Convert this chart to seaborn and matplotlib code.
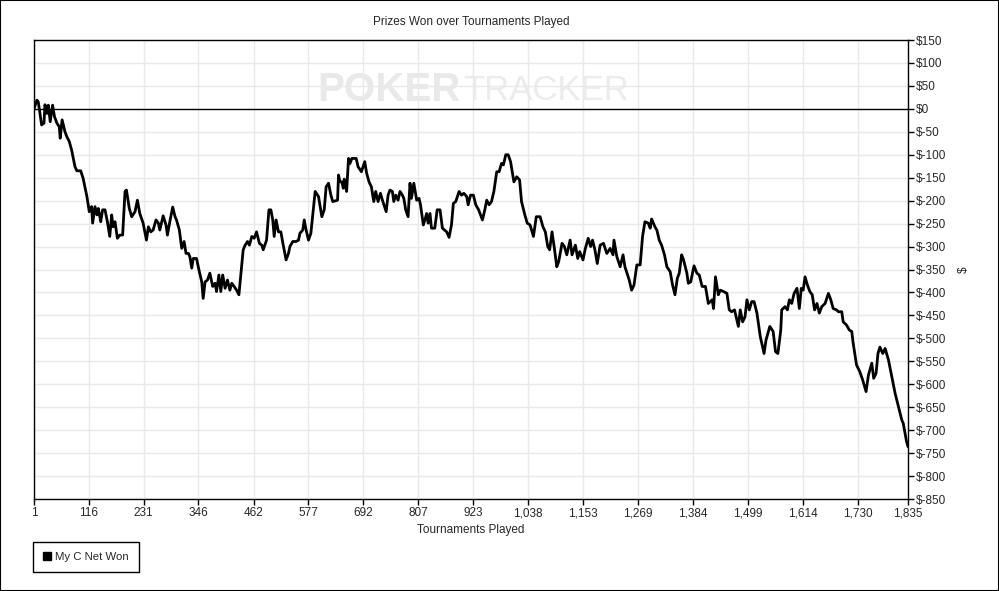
import matplotlib
matplotlib.use("Agg")
import matplotlib.pyplot as plt
import numpy as np
import pandas as pd
import seaborn as sns
from matplotlib.lines import Line2D
from matplotlib.ticker import FuncFormatter

# Data (tournament number, cumulative net won in $)
tournaments = [
    1, 7, 10, 17, 22, 24, 28, 31, 35, 40, 44, 49, 54, 56, 60, 66, 70, 75, 80, 87,
    91, 99, 104, 112, 117, 122, 124, 129, 133, 136, 141, 145, 150, 155, 160, 164, 167, 171, 176, 181,
    187, 192, 195, 201, 206, 213, 218, 223, 230, 237, 241, 246, 251, 257, 262, 265, 272, 278, 281, 286,
    292, 297, 300, 306, 311, 316, 320, 325, 328, 332, 335, 342, 348, 353, 356, 360, 365, 370, 376, 381,
    384, 389, 393, 397, 402, 407, 412, 416, 421, 426, 431, 435, 440, 444, 449, 453, 458, 463, 468, 474,
    479, 482, 489, 494, 498, 502, 505, 509, 514, 519, 524, 530, 535, 538, 544, 551, 556, 559, 565, 568,
    572, 577, 582, 587, 591, 598, 605, 610, 614, 619, 624, 628, 638, 640, 643, 647, 650, 652, 657, 661,
    664, 668, 672, 677, 681, 688, 695, 699, 704, 709, 714, 718, 723, 728, 733, 740, 744, 748, 753, 756,
    760, 765, 769, 774, 777, 781, 786, 790, 793, 798, 804, 809, 812, 818, 825, 828, 832, 835, 842, 847,
    853, 858, 867, 872, 877, 881, 886, 893, 898, 903, 909, 912, 917, 923, 928, 934,
    942, 947, 951, 956, 961, 966, 972, 977, 982, 986, 991, 996, 1001, 1008, 1014, 1020, 1024, 1031, 1036, 1042,
    1049, 1055, 1063, 1069, 1074, 1079, 1083, 1088, 1093, 1098, 1102, 1109, 1114, 1119, 1126, 1130, 1137, 1142, 1146, 1153,
    1158, 1164, 1169, 1173, 1178, 1183, 1189, 1196, 1203, 1210, 1216, 1218, 1224, 1231, 1237, 1241, 1250, 1255, 1260, 1266,
    1273, 1278, 1283, 1290, 1294, 1297, 1304, 1308, 1313, 1318, 1324, 1329, 1336, 1341, 1346, 1351, 1355, 1360, 1364, 1371,
    1374, 1379, 1386, 1392, 1397,
    1403, 1410, 1416, 1424, 1427, 1431, 1437, 1441, 1448, 1455, 1460, 1465, 1471, 1479, 1483, 1488, 1493, 1497, 1502, 1507,
    1512, 1518, 1525, 1533, 1537, 1545, 1552, 1557, 1562, 1568, 1570, 1577, 1582, 1586, 1591, 1596, 1602, 1607, 1611, 1615,
    1619, 1624, 1629, 1634, 1639, 1644, 1649, 1654, 1661, 1668, 1673, 1678, 1685, 1689, 1696, 1699, 1706, 1712, 1717, 1720,
    1727, 1734, 1740, 1747, 1752, 1759, 1763, 1768, 1772, 1776, 1782, 1787, 1794, 1801, 1808, 1815, 1822, 1825, 1832, 1835,
]
net_won = [
    0, 19, 15, -35, -31, 9, -10, 8, -28, 8, -17, -31, -39, -64, -24, -50, -61, -71, -90, -126,
    -135, -135, -151, -191, -224, -213, -249, -213, -231, -217, -246, -220, -220, -246, -278, -231, -257, -246, -282, -275,
    -275, -180, -177, -217, -235, -224, -199, -228, -249, -286, -257, -268, -264, -242, -249, -264, -233, -253, -275, -246,
    -214, -235, -242, -264, -304, -289, -315, -315, -322, -347, -326, -326, -355, -377, -413, -377, -373, -358, -387, -380,
    -398, -362, -398, -362, -391, -373, -395, -380, -387, -395, -405, -362, -307, -297, -289, -297, -278, -282, -268, -293,
    -297, -307, -286, -220, -220, -242, -278, -242, -268, -268, -297, -329, -315, -300, -289, -289, -286, -271, -264, -242,
    -264, -286, -271, -220, -180, -191, -235, -220, -170, -162, -188, -202, -199, -144, -159, -159, -173, -153, -180, -108,
    -119, -108, -108, -108, -126, -137, -115, -140, -159, -170, -202, -180, -202, -184, -202, -224, -188, -177, -180, -202,
    -188, -199, -180, -188, -195, -220, -235, -162, -195, -162, -199, -195, -209, -253, -228, -249, -228, -260, -260, -220,
    -220, -260, -268, -280, -253, -206, -202, -180, -188, -184, -191, -209, -188, -188, -209, -220,
    -242, -220, -199, -209, -202, -180, -137, -137, -119, -122, -100, -100, -115, -159, -148, -155, -202, -231, -249, -253,
    -278, -235, -235, -257, -268, -300, -307, -268, -304, -344, -333, -293, -300, -318, -286, -318, -297, -326, -311, -329,
    -304, -282, -300, -286, -307, -337, -297, -293, -315, -304, -318, -286, -322, -344, -318, -344, -373, -395, -384, -340,
    -340, -278, -246, -249, -260, -240, -257, -264, -286, -297, -318, -344, -355, -384, -405, -369, -358, -318, -329, -358,
    -380, -377, -342, -358, -362,
    -387, -387, -424, -416, -435, -366, -405, -395, -398, -402, -438, -442, -438, -474, -438, -464, -453, -416, -438, -420,
    -420, -445, -496, -533, -504, -474, -485, -529, -533, -482, -438, -431, -438, -416, -424, -402, -391, -435, -391, -395,
    -366, -384, -398, -405, -438, -424, -445, -431, -424, -402, -416, -435, -438, -442, -442, -464, -471, -482, -485, -511,
    -558, -573, -591, -616, -580, -554, -587, -576, -533, -519, -533, -522, -547, -583, -620, -649, -678, -685, -725, -736,
]
x_ticks = [1, 116, 231, 346, 462, 577, 692, 807, 923, 1038, 1153, 1269, 1384, 1499, 1614, 1730, 1835]
y_ticks = list(range(-850, 151, 50))
series_name = "My C Net Won"

df = pd.DataFrame({"Tournaments Played": tournaments, "Net Won": net_won})

sns.set_style("white")
plt.rcParams["font.family"] = ["Liberation Sans", "DejaVu Sans"]
plt.rcParams["font.size"] = 8.5

fig = plt.figure(figsize=(9.99, 5.91), dpi=100)
ax = fig.add_axes([34 / 999, 1 - 499 / 591, 874 / 999, 459 / 591])

# grid + zero line
for xt in x_ticks:
    ax.axvline(xt, color="#e9e9e9", lw=1, zorder=0)
for yt in y_ticks:
    ax.axhline(yt, color="#e9e9e9", lw=1, zorder=0)
ax.axhline(0, color="black", lw=1, zorder=1)

# watermark
fig.text(461 / 999, 1 - 90 / 591, "POKER", ha="right", va="center",
         fontsize=29, fontweight="bold", color="#e9e9e9", zorder=0.5)
fig.text(463 / 999, 1 - 90 / 591, "TRACKER", ha="left", va="center",
         fontsize=25, color="#ececec", zorder=0.5)

sns.lineplot(data=df, x="Tournaments Played", y="Net Won", ax=ax, color="black",
             linewidth=2, zorder=3, legend=False)
ax.set_zorder(1)
ax.patch.set_alpha(0)

ax.set_xlim(1, 1835)
ax.set_ylim(-850, 150)
ax.set_xticks(x_ticks)
ax.set_xticklabels([f"{v:,}" for v in x_ticks])
ax.set_yticks(y_ticks)
ax.yaxis.set_major_formatter(FuncFormatter(lambda v, p: f"${int(v)}"))
ax.yaxis.tick_right()
ax.yaxis.set_label_position("right")
ax.tick_params(axis="x", direction="out", length=4, width=1, color="black", pad=2, labelsize=8.5, bottom=True)
ax.tick_params(axis="y", direction="out", length=4, width=1, color="black", pad=2, labelsize=8.5,
               right=True, left=False)
for s in ax.spines.values():
    s.set_color("black")
    s.set_linewidth(1)

ax.set_xlabel("Tournaments Played", fontsize=8.5, labelpad=3)
ax.set_ylabel("$", fontsize=8.5, labelpad=8)
fig.text(0.5 * (34 + 908) / 999, 1 - 22 / 591, "Prizes Won over Tournaments Played",
         ha="center", va="center", fontsize=8.5)

handle = Line2D([], [], marker="s", color="black", linestyle="none", markersize=6)
leg = fig.legend([handle], [series_name], loc="lower left", bbox_to_anchor=(33 / 999, 1 - 572 / 591),
                 borderaxespad=0, fancybox=False, edgecolor="black", framealpha=1,
                 fontsize=8.2, handlelength=0.7, handletextpad=0.35, borderpad=0.9)
leg.get_frame().set_linewidth(1)

fig.patches.append(plt.Rectangle((0, 0), 1, 1, transform=fig.transFigure, fill=False,
                                 edgecolor="black", linewidth=1.5))

fig.savefig("out.png", dpi=100)
